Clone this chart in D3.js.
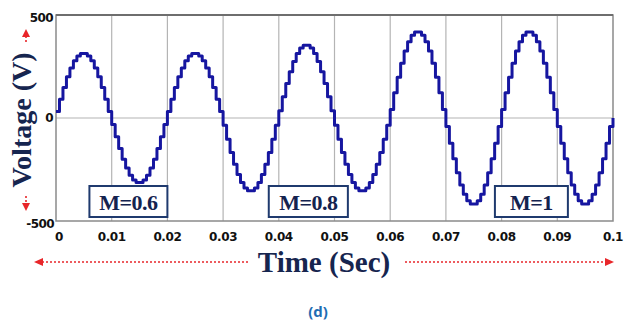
<!DOCTYPE html>
<html>
<head>
<meta charset="utf-8">
<script src="https://cdn.jsdelivr.net/npm/d3@7"></script>
<style>
  body { margin: 0; background: #fff; }
  svg { display: block; }
</style>
</head>
<body>
<svg id="chart" width="636" height="326"></svg>
<script>
const WIDTH = 636, HEIGHT = 326;
const margin = { left: 56, right: 23, top: 15, bottom: 105 };

// quarter-wave staircase levels (V) for each modulation index
const levels06 = [31, 91, 148, 200, 243, 278, 301, 313];
const levels08 = [35, 103, 167, 225, 274, 313, 340, 353];
const levels10 = [41, 122, 198, 266, 325, 370, 402, 418];
// modulation index used in each half cycle (0.01 s each)
const halfCycleM = [0.6, 0.6, 0.6, 0.8, 0.8, 0.8, 1, 1, 1, 1];
const xTicks = [0, 0.01, 0.02, 0.03, 0.04, 0.05, 0.06, 0.07, 0.08, 0.09, 0.1];
const xTickLabels = ["0", "0.01", "0.02", "0.03", "0.04", "0.05", "0.06", "0.07", "0.08", "0.09", "0.1"];
const yTicks = [-500, 0, 500];
const labels = [
  { text: "M=0.6", x0: 0.006, x1: 0.020 },
  { text: "M=0.8", x0: 0.0382, x1: 0.0524 },
  { text: "M=1", x0: 0.0788, x1: 0.0919 }
];
const STEP = 0.000625;

const levelsFor = { 0.6: levels06, 0.8: levels08, 1: levels10 };

// build staircase samples: each half cycle = quarter levels + mirrored
const points = [];
halfCycleM.forEach((m, h) => {
  const q = levelsFor[m];
  const half = q.concat(q.slice().reverse());
  const sign = h % 2 === 0 ? 1 : -1;
  half.forEach((v, k) => points.push({ t: h * 0.01 + k * STEP, v: sign * v }));
});
points.push({ t: 0.1, v: 0 });

const svg = d3.select("#chart");
const x = d3.scaleLinear().domain([0, 0.1]).range([margin.left, WIDTH - margin.right]);
const y = d3.scaleLinear().domain([-500, 500]).range([HEIGHT - margin.bottom, margin.top]);

// grid
svg.append("g")
  .selectAll("line")
  .data(xTicks.slice(1, -1))
  .join("line")
  .attr("x1", d => x(d)).attr("x2", d => x(d))
  .attr("y1", y(500)).attr("y2", y(-500))
  .attr("stroke", "#b4b4b4").attr("stroke-width", 1.2);

svg.append("line")
  .attr("x1", x(0)).attr("x2", x(0.1))
  .attr("y1", y(0)).attr("y2", y(0))
  .attr("stroke", "#b4b4b4").attr("stroke-width", 1.2);

// frame
svg.append("rect")
  .attr("x", x(0)).attr("y", y(500))
  .attr("width", x(0.1) - x(0)).attr("height", y(-500) - y(500))
  .attr("fill", "none").attr("stroke", "#8a8a8a").attr("stroke-width", 1.5);
svg.append("line")
  .attr("x1", x(0)).attr("x2", x(0.1))
  .attr("y1", y(500)).attr("y2", y(500))
  .attr("stroke", "#6e6e6e").attr("stroke-width", 2.2);

// waveform
const line = d3.line()
  .x(d => x(d.t))
  .y(d => y(d.v))
  .curve(d3.curveStepAfter);

svg.append("path")
  .datum(points)
  .attr("d", line)
  .attr("fill", "none")
  .attr("stroke", "#1616a0")
  .attr("stroke-width", 3)
  .attr("stroke-linejoin", "round");

// tick labels
svg.append("g")
  .selectAll("text")
  .data(xTicks)
  .join("text")
  .attr("x", (d, i) => i === 0 ? x(d) + 3 : x(d))
  .attr("y", y(-500) + 20)
  .attr("text-anchor", "middle")
  .attr("font-family", "DejaVu Sans, sans-serif")
  .attr("font-weight", "bold")
  .attr("font-size", 12)
  .attr("letter-spacing", -0.4)
  .attr("fill", "#111")
  .text((d, i) => xTickLabels[i]);

svg.append("g")
  .selectAll("text")
  .data(yTicks)
  .join("text")
  .attr("x", d => d === -500 ? x(0) - 2 : x(0) - 3)
  .attr("y", d => y(d) + (d === -500 ? 7 : d === 500 ? 7 : 4))
  .attr("text-anchor", "end")
  .attr("font-family", "DejaVu Sans, sans-serif")
  .attr("font-weight", "bold")
  .attr("font-size", 12)
  .attr("letter-spacing", -0.6)
  .attr("fill", "#111")
  .text(d => d);

// M labels
const lab = svg.append("g")
  .selectAll("g")
  .data(labels)
  .join("g");
lab.append("rect")
  .attr("x", d => x(d.x0))
  .attr("y", 186)
  .attr("width", d => x(d.x1) - x(d.x0))
  .attr("height", 31)
  .attr("fill", "#fff")
  .attr("stroke", "#1f3a6e")
  .attr("stroke-width", 2);
lab.append("text")
  .attr("x", d => (x(d.x0) + x(d.x1)) / 2)
  .attr("y", 210)
  .attr("text-anchor", "middle")
  .attr("font-family", "Liberation Serif, Times New Roman, serif")
  .attr("font-weight", "bold")
  .attr("font-size", 22)
  .attr("letter-spacing", -0.5)
  .attr("fill", "#14234f")
  .text(d => d.text);

// axis titles
const navy = "#16254f";
svg.append("text")
  .attr("transform", "translate(31,120) rotate(-90)")
  .attr("text-anchor", "middle")
  .attr("font-family", "Liberation Serif, Times New Roman, serif")
  .attr("font-weight", "bold")
  .attr("font-size", 28)
  .attr("fill", navy)
  .text("Voltage (V)");

svg.append("text")
  .attr("x", 324)
  .attr("y", 272)
  .attr("text-anchor", "middle")
  .attr("font-family", "Liberation Serif, Times New Roman, serif")
  .attr("font-weight", "bold")
  .attr("font-size", 29)
  .attr("fill", navy)
  .text("Time (Sec)");

// red dotted arrows
const red = "#e8262a";
const dots = svg.append("g").attr("stroke", red).attr("stroke-width", 1.6)
  .attr("stroke-dasharray", "2,2").attr("fill", "none");
dots.append("line").attr("x1", 42).attr("x2", 250).attr("y1", 262).attr("y2", 262);
dots.append("line").attr("x1", 405).attr("x2", 606).attr("y1", 262).attr("y2", 262);
dots.append("line").attr("x1", 26).attr("x2", 26).attr("y1", 36).attr("y2", 43);
dots.append("line").attr("x1", 26).attr("x2", 26).attr("y1", 196).attr("y2", 203);

const heads = svg.append("g").attr("fill", red);
heads.append("path").attr("d", "M34,262 L43,258 L43,266 Z");
heads.append("path").attr("d", "M614,262 L605,258 L605,266 Z");
heads.append("path").attr("d", "M26,29 L22,37 L30,37 Z");
heads.append("path").attr("d", "M26,211 L22,203 L30,203 Z");

// caption
svg.append("text")
  .attr("x", 318)
  .attr("y", 317)
  .attr("text-anchor", "middle")
  .attr("font-family", "Open Sans, Liberation Sans, sans-serif")
  .attr("font-weight", "bold")
  .attr("font-size", 15)
  .attr("fill", "#1f6db3")
  .text("(d)");
</script>
</body>
</html>
